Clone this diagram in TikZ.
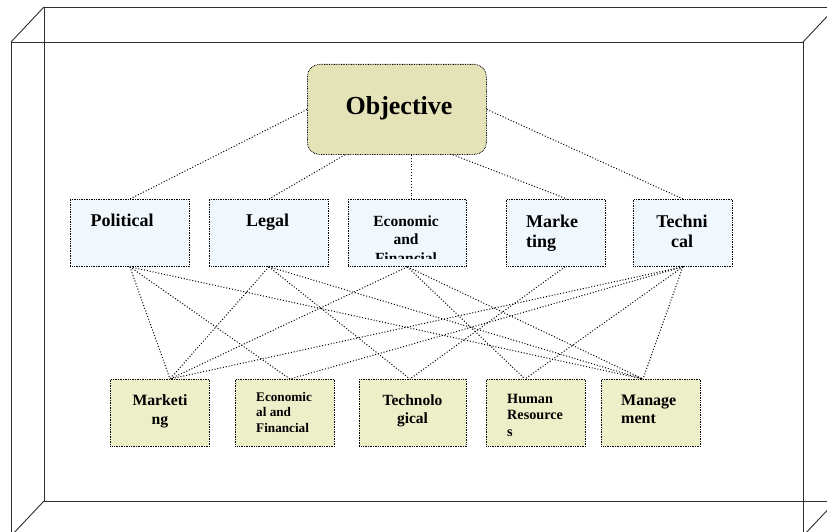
\documentclass[tikz,border=0pt]{standalone}
\usepackage{fontspec}
\setmainfont{Liberation Serif}
\definecolor{objfill}{RGB}{228,227,184}
\definecolor{midfill}{RGB}{240,247,253}
\definecolor{botfill}{RGB}{237,239,201}
\definecolor{framec}{RGB}{45,45,45}
\tikzset{
  frameline/.style={draw=framec, line width=0.9pt},
  boxdots/.style={draw=black, line width=0.8pt, dash pattern=on 0.8pt off 0.9pt},
  objbox/.style={boxdots, fill=objfill, rounded corners=12pt, inner sep=0pt, anchor=north west},
  midbox/.style={boxdots, fill=midfill, inner sep=0pt, anchor=north west, minimum height=67pt},
  botbox/.style={boxdots, fill=botfill, inner sep=0pt, anchor=north west, minimum height=67pt},
  link/.style={draw=black, line width=1pt, dash pattern=on 1pt off 1.9pt},
  lbl/.style={inner sep=0pt, font=\bfseries},
}
\begin{document}
\begin{tikzpicture}[x=1pt, y=-1pt]
\useasboundingbox (0,0) rectangle (827,532);
% frame (open box)
\begin{scope}
\clip (0,0) rectangle (827,532);
\draw[frameline] (44,7) -- (836,7);
\draw[frameline] (44,7) -- (44,501) -- (836,501);
\draw[frameline] (11,42) -- (803,42);
\draw[frameline] (11,42) -- (11,536);
\draw[frameline] (803,42) -- (803,536);
\draw[frameline] (11,42) -- (44,7);
\draw[frameline] (803,42) -- (836,7);
\draw[frameline] (11,536) -- (44,501);
\draw[frameline] (803,536) -- (836,501);
\end{scope}

% boxes
\node[objbox, minimum width=179pt, minimum height=90pt] (obj) at (307,64) {};
\node[midbox, minimum width=119pt] (pol) at (70,199) {};
\node[midbox, minimum width=119pt] (leg) at (209,199) {};
\node[midbox, minimum width=118pt] (eco) at (348,199) {};
\node[midbox, minimum width=99pt] (mkt) at (506,199) {};
\node[midbox, minimum width=99pt] (tec) at (633,199) {};
\node[botbox, minimum width=99pt] (bmk) at (110,379) {};
\node[botbox, minimum width=99pt] (bec) at (235,379) {};
\node[botbox, minimum width=107pt] (bte) at (359,379) {};
\node[botbox, minimum width=99pt] (bhr) at (486,379) {};
\node[botbox, minimum width=99pt] (bmg) at (601,379) {};

% texts
\node[lbl, font=\bfseries\fontsize{26}{30}\selectfont, anchor=base] (objt) at (399,115) {Objective};
\node[lbl, font=\bfseries\fontsize{18}{20}\selectfont, anchor=base] (polt) at (122,226.5) {Political};
\node[lbl, font=\bfseries\fontsize{18}{20}\selectfont, anchor=base] (legt) at (267.5,226.5) {Legal};
\begin{scope}
\clip (348,199) rectangle (466,258);
\node[lbl, font=\bfseries\fontsize{15.5}{18.5}\selectfont, anchor=north, align=center] (ecot) at (406,215.2) {Economic\\and\\Financial};
\end{scope}
\node[lbl, font=\bfseries\fontsize{18}{20}\selectfont, anchor=north west, align=left] (mktt) at (526,214.8) {Marke\\ting};
\node[lbl, font=\bfseries\fontsize{18}{20}\selectfont, anchor=north, align=center] (tect) at (682,214.8) {Techni\\cal};
\node[lbl, font=\bfseries\fontsize{15.7}{19}\selectfont, anchor=north, align=center] (bmkt) at (160,394.6) {Marketi\\ng};
\node[lbl, font=\bfseries\fontsize{13.2}{15.3}\selectfont, anchor=north west, align=left] (bect) at (256,392.3) {Economic\\al and\\Financial};
\node[lbl, font=\bfseries\fontsize{15.5}{18}\selectfont, anchor=north, align=center] (btet) at (412.5,394.7) {Technolo\\gical};
\begin{scope}
\clip (486,379) rectangle (585,435);
\node[lbl, font=\bfseries\fontsize{14.2}{16.3}\selectfont, anchor=north west, align=left] (bhrt) at (507,393.9) {Human\\Resource\\s};
\end{scope}
\node[lbl, font=\bfseries\fontsize{16}{18.5}\selectfont, anchor=north west, align=left] (bmgt) at (621,394.4) {Manage\\ment};

% connection points
\coordinate (objL) at ([xshift=38pt]obj.south west);
\coordinate (ecoT) at ([xshift=4pt]eco.north);
\coordinate (objM) at ([xshift=146pt]obj.south west);
\coordinate (mktT) at ([xshift=61pt]mkt.north west);
\coordinate (mktB) at ([xshift=59pt]mkt.south west);
\coordinate (bmkT) at ([xshift=60pt]bmk.north west);
\coordinate (becT) at ([xshift=55pt]bec.north west);
\coordinate (bteT) at ([xshift=51pt]bte.north west);
\coordinate (bhrT) at ([xshift=39pt]bhr.north west);
\coordinate (bmgT) at ([xshift=42pt]bmg.north west);

% objective to criteria
\draw[link] (obj.west) -- (pol.north);
\draw[link] (objL) -- (leg.north);
\draw[link] (ecoT |- obj.south) -- (ecoT);
\draw[link] (objM) -- (mktT);
\draw[link] (obj.east) -- (tec.north);

% criteria to sub-criteria
\draw[link] (pol.south) -- (bmkT);
\draw[link] (pol.south) -- (becT);
\draw[link] (pol.south) -- (bmgT);
\draw[link] (leg.south) -- (bmkT);
\draw[link] (leg.south) -- (bteT);
\draw[link] (leg.south) -- (bmgT);
\draw[link] (eco.south) -- (bmkT);
\draw[link] (eco.south) -- (bhrT);
\draw[link] (eco.south) -- (bmgT);
\draw[link] (mktB) -- (bteT);
\draw[link] (tec.south) -- (bmkT);
\draw[link] (tec.south) -- (becT);
\draw[link] (tec.south) -- (bhrT);
\draw[link] (tec.south) -- (bmgT);
\end{tikzpicture}
\end{document}
